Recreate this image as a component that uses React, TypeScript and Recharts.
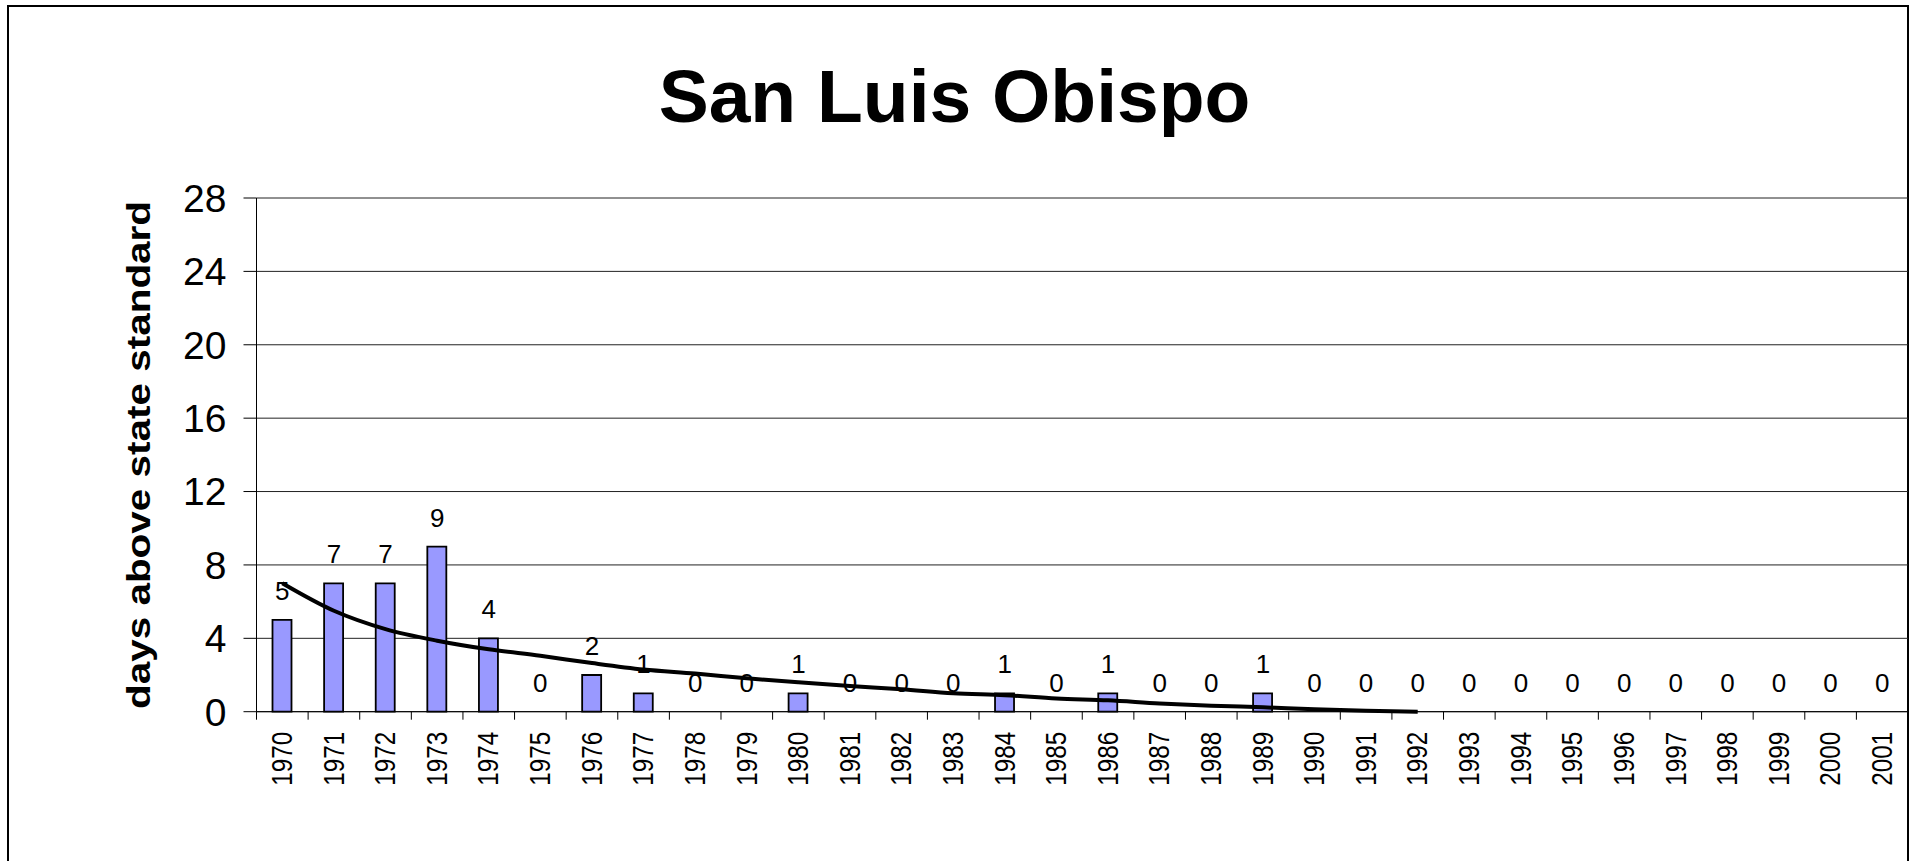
import { ComposedChart, Bar, Line, XAxis, YAxis, CartesianGrid, LabelList } from "recharts";

const years = [
    "1970", "1971", "1972", "1973", "1974", "1975", "1976", "1977", "1978", "1979", "1980",
    "1981", "1982", "1983", "1984", "1985", "1986", "1987", "1988", "1989", "1990", "1991",
    "1992", "1993", "1994", "1995", "1996", "1997", "1998", "1999", "2000", "2001",
];
const daysAbove = [5, 7, 7, 9, 4, 0, 2, 1, 0, 0, 1, 0, 0, 0, 1, 0, 1, 0, 0, 1, 0, 0, 0, 0, 0, 0, 0, 0, 0, 0, 0, 0];
const trend = [
    7.0, 5.5, 4.5, 3.87, 3.4, 3.05, 2.65, 2.3, 2.08, 1.82, 1.6, 1.4, 1.22, 1.0, 0.9, 0.72,
    0.62, 0.45, 0.33, 0.24, 0.13, 0.05, 0.0, null, null, null, null, null, null, null, null, null,
];
const yTicks = [0, 4, 8, 12, 16, 20, 24, 28];

const W = 1915;
const H = 861;
const PLOT_LEFT = 256.5;
const PLOT_RIGHT = 1908;
const PLOT_TOP = 198;
const PLOT_BOTTOM = 711.7;
const BAND = (PLOT_RIGHT - PLOT_LEFT) / years.length;
const FONT = "'Liberation Sans', Arial, sans-serif";

const data = years.map((year, i) => ({ year, days: daysAbove[i], trend: trend[i] }));

const YearTick = ({ x, payload }: any) => {
    const ty = PLOT_BOTTOM + 20;
    return (
        <g>
            <line x1={x - BAND / 2} x2={x - BAND / 2} y1={PLOT_BOTTOM} y2={PLOT_BOTTOM + 8} stroke="#000" strokeWidth={1} />
            <text
                transform={`translate(${x}, ${ty}) rotate(-90) scale(0.84, 1)`}
                textAnchor="end"
                dominantBaseline="central"
                fontFamily={FONT}
                fontSize={29}
                fill="#000"
            >
                {payload.value}
            </text>
        </g>
    );
};

const YTitle = () => {
    const cx = 150;
    const cy = 455;
    return (
        <text
            transform={`translate(${cx}, ${cy}) rotate(-90) scale(1.19, 1)`}
            textAnchor="middle"
            fontFamily={FONT}
            fontWeight="bold"
            fontSize={34}
            fill="#000"
        >
            days above state standard
        </text>
    );
};

// labels sit above every bar, zeros included
const ValueLabel = ({ x, y, value }: any) => (
    <text x={x} y={y - 20} textAnchor="middle" fontFamily={FONT} fontSize={26} fill="#000">
        {value}
    </text>
);

export default function App() {
    return (
        <div style={{ position: "absolute", left: 0, top: 0, width: W, height: H, background: "#fff", overflow: "hidden" }}>
            <div
                style={{
                    position: "absolute",
                    left: 7,
                    top: 5,
                    width: 1902,
                    height: H - 5,
                    boxSizing: "border-box",
                    border: "2px solid #000",
                    borderBottom: "none",
                }}
            />
            <div
                style={{
                    position: "absolute",
                    left: 0,
                    top: 58,
                    width: 1909,
                    textAlign: "center",
                    fontFamily: FONT,
                    fontWeight: "bold",
                    fontSize: 75,
                    lineHeight: "76px",
                    color: "#000",
                }}
            >
                San Luis Obispo
            </div>
            <div style={{ position: "absolute", left: 0, top: 0 }}>
                <ComposedChart
                    width={W}
                    height={H}
                    data={data}
                    margin={{ top: PLOT_TOP, right: W - PLOT_RIGHT, bottom: 0, left: 0 }}
                >
                    <CartesianGrid vertical={false} stroke="#222" strokeWidth={1} />
                    <XAxis
                        dataKey="year"
                        interval={0}
                        height={H - PLOT_BOTTOM}
                        tickLine={false}
                        axisLine={{ stroke: "#000", strokeWidth: 1 }}
                        tick={<YearTick />}
                    />
                    <YAxis
                        width={PLOT_LEFT}
                        domain={[0, 28]}
                        ticks={yTicks}
                        interval={0}
                        tickSize={13}
                        tickMargin={17}
                        axisLine={{ stroke: "#000", strokeWidth: 1 }}
                        tickLine={{ stroke: "#000", strokeWidth: 1 }}
                        tick={{ fontFamily: FONT, fontSize: 39, fill: "#000" }}
                        label={<YTitle />}
                    />
                    <Bar dataKey="days" fill="#9999ff" stroke="#000" strokeWidth={1.8} barSize={19} isAnimationActive={false} />
                    <Line
                        dataKey="trend"
                        type="monotone"
                        stroke="#000"
                        strokeWidth={4}
                        dot={false}
                        activeDot={false}
                        isAnimationActive={false}
                    />
                    <Line
                        dataKey="days"
                        stroke="none"
                        dot={false}
                        activeDot={false}
                        legendType="none"
                        isAnimationActive={false}
                    >
                        <LabelList dataKey="days" content={<ValueLabel />} />
                    </Line>
                </ComposedChart>
            </div>
        </div>
    );
}
